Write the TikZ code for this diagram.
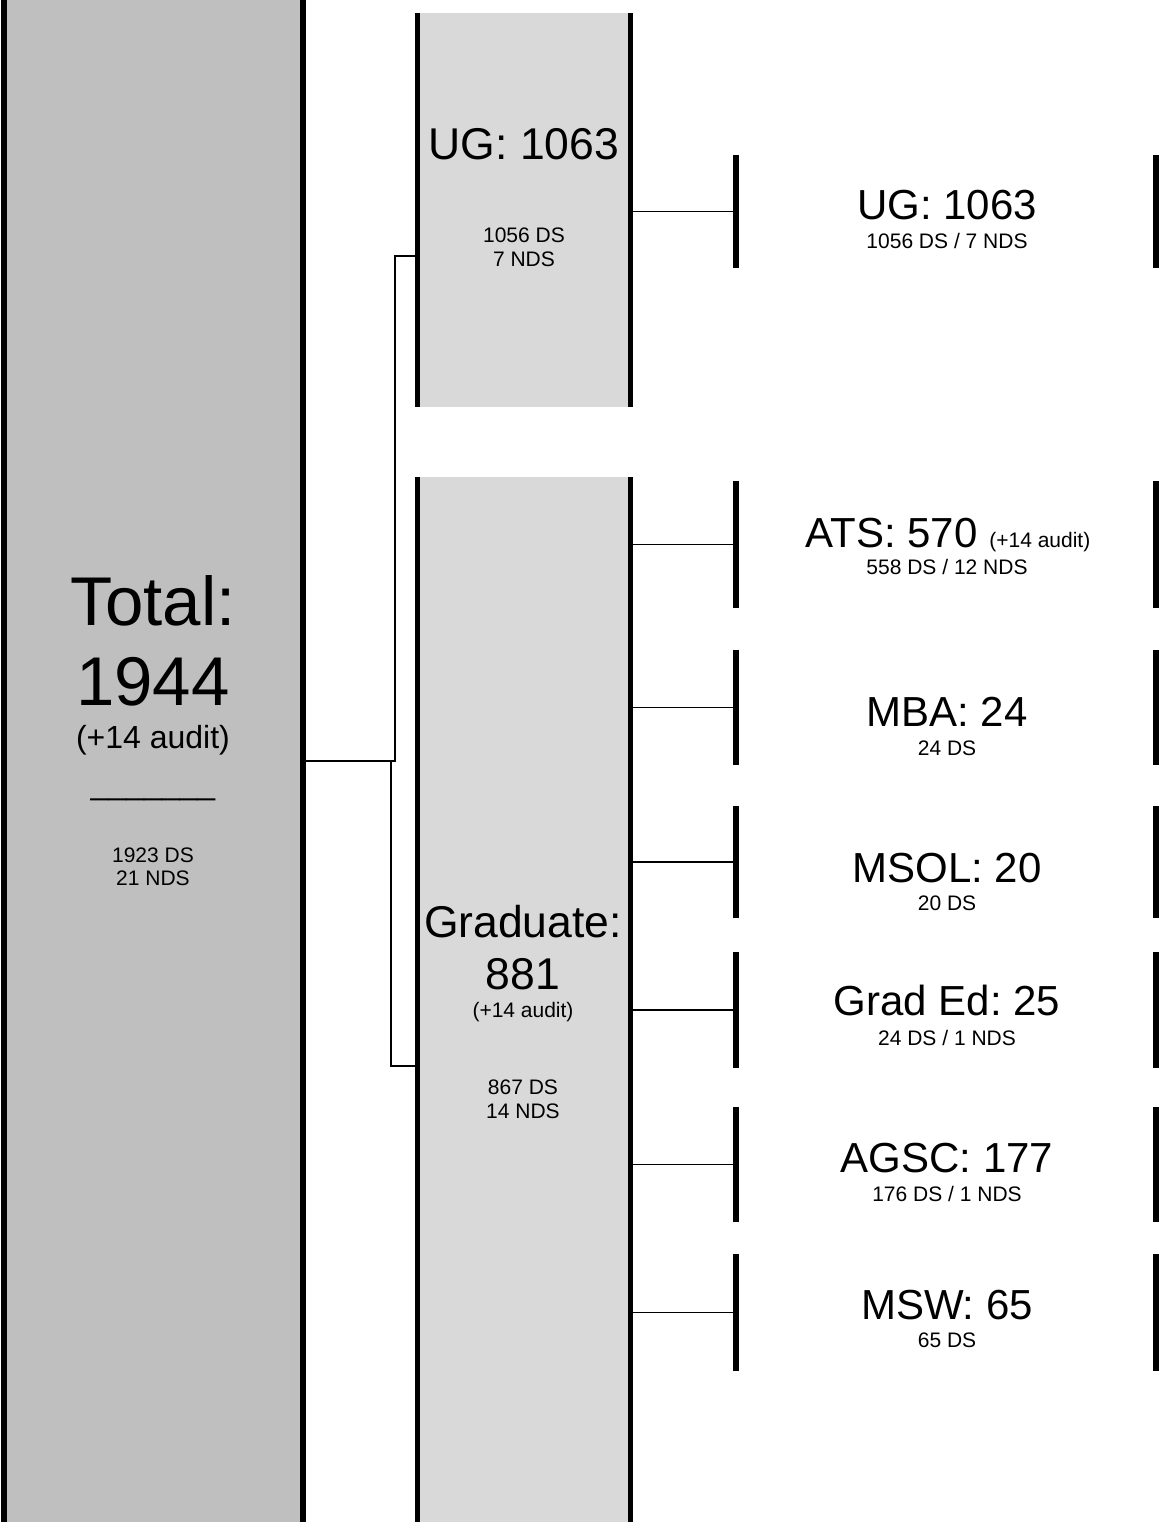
\documentclass[tikz,border=0pt]{standalone}
\usepackage{fontspec}
\setmainfont{Liberation Sans}
\definecolor{totfill}{HTML}{BFBFBF}
\definecolor{subfill}{HTML}{D9D9D9}
\newcommand\fsz[1]{\fontsize{#1}{#1}\selectfont}
\frenchspacing
\begin{document}
\begin{tikzpicture}[x=1pt,y=-1pt,
  box/.style={rectangle,inner sep=0pt,outer sep=0pt,draw=none},
  totbox/.style={box,fill=totfill,minimum width=299pt,minimum height=1522pt},
  subbox/.style={box,fill=subfill,minimum width=212.5pt},
  bracket/.style={box,minimum width=420pt},
  conn/.style={line width=1.6pt,draw=black},
  txt/.style={inner sep=0pt,anchor=base,align=center,text=black},
  huge/.style={txt,font=\fsz{69}},
  big/.style={txt,font=\fsz{44.5}},
  mid/.style={txt,font=\fsz{42}},
  par/.style={txt,font=\fsz{32}},
  small/.style={txt,font=\fsz{21}},
]
\useasboundingbox (0,0) rectangle (1163,1522);
\fill[white] (0,0) rectangle (1163,1522);

% boxes
\node[totbox] (tot) at (153.5,761) {};
\node[subbox,minimum height=394pt] (ug) at (523.75,210) {};
\node[subbox,minimum height=1045pt] (grad) at (523.75,999.5) {};

% right brackets
\node[bracket,minimum height=113pt] (ugR) at (946,211.5) {};
\node[bracket,minimum height=127pt] (ats) at (946,544.5) {};
\node[bracket,minimum height=115pt] (mba) at (946,707.5) {};
\node[bracket,minimum height=112pt] (msol) at (946,862) {};
\node[bracket,minimum height=116pt] (graded) at (946,1010) {};
\node[bracket,minimum height=115pt] (agsc) at (946,1164.5) {};
\node[bracket,minimum height=117pt] (msw) at (946,1312.5) {};

% connectors
\coordinate (ugin) at (417.5,256);
\coordinate (gradin) at (417.5,1066);
\draw[conn] (tot.east) -- ++(92,0) |- (ugin);
\draw[conn] (tot.east) -- ++(88,0) |- (gradin);
\draw[conn] (ugR.west -| ug.east) -- (ugR.west);
\foreach \n in {ats,mba,msol,graded,agsc,msw}
  \draw[conn] (\n.west -| grad.east) -- (\n.west);

% bars
\draw[line width=6pt] (tot.north west) -- (tot.south west)
                      (tot.north east) -- (tot.south east);
\foreach \n in {ug,grad}
  \draw[line width=5pt] (\n.north west) -- (\n.south west)
                        (\n.north east) -- (\n.south east);
\foreach \n in {ugR,ats,mba,msol,graded,agsc,msw}
  \draw[line width=5.5pt] (\n.north west) -- (\n.south west)
                          (\n.north east) -- (\n.south east);

% Total text
\node[huge] (tot1) at (153,625) {Total:};
\node[huge] (tot2) at (153,705) {1944};
\node[par] (tot3) at (153,748) {(+14 audit)};
\node[par] (tot4) at (153,794) {\_\_\_\_\_\_\_};
\node[small] (tot5) at (153,862) {1923 DS};
\node[small] (tot6) at (153,885) {21 NDS};

% UG box text
\node[big] (ug1) at (524,160) {UG: 1063};
\node[small] (ug2) at (524,243) {1056 DS};
\node[small] (ug3) at (524,266) {7 NDS};

% Graduate box text
\node[big] (gr1) at (523,937) {Graduate:};
\node[big] (gr2) at (523,989) {881};
\node[small] (gr3) at (523,1017) {(+14 audit)};
\node[small] (gr4) at (523,1094) {867 DS};
\node[small] (gr5) at (523,1118) {14 NDS};

% right labels
\node[mid] (ugRa) at (947,220) {UG: 1063};
\node[small] (ugRb) at (947,248) {1056 DS / 7 NDS};
\node[mid] (atsa) at (948,547) {ATS: 570 {\fsz{21}(+14 audit)}};
\node[small] (atsb) at (947,574) {558 DS / 12 NDS};
\node[mid] (mbaa) at (947,726) {MBA: 24};
\node[small] (mbab) at (947,755) {24 DS};
\node[mid] (msola) at (947,882) {MSOL: 20};
\node[small] (msolb) at (947,910) {20 DS};
\node[mid] (gradeda) at (947,1015) {Grad Ed: 25};
\node[small] (gradedb) at (947,1045) {24 DS / 1 NDS};
\node[mid] (agsca) at (947,1172) {AGSC: 177};
\node[small] (agscb) at (947,1201) {176 DS / 1 NDS};
\node[mid] (mswa) at (947,1319) {MSW: 65};
\node[small] (mswb) at (947,1347) {65 DS};
\end{tikzpicture}
\end{document}
